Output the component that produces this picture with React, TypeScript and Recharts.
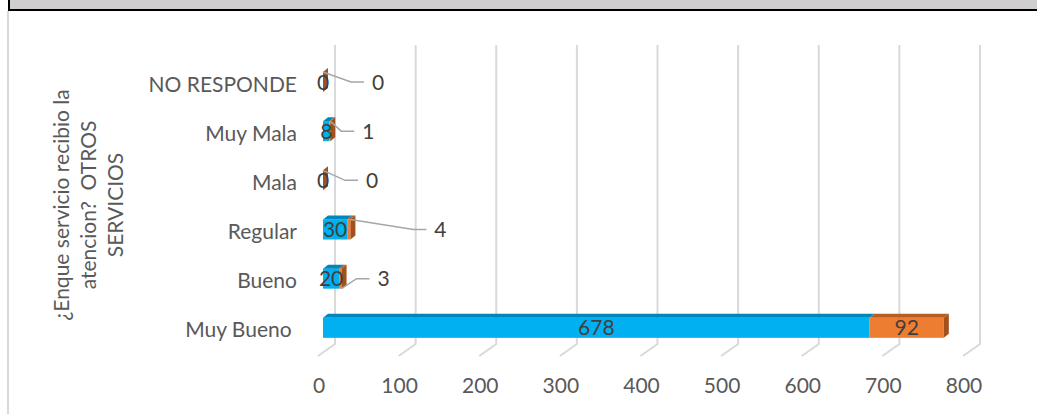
import { BarChart, Bar, XAxis, YAxis, CartesianGrid, LabelList } from "recharts";

const categories = ["NO RESPONDE", "Muy Mala", "Mala", "Regular", "Bueno", "Muy Bueno "];
const serieAzul = [0, 8, 0, 30, 20, 678];
const serieNaranja = [0, 1, 0, 4, 3, 92];
const xTicks = [0, 100, 200, 300, 400, 500, 600, 700, 800];

// where the orange labels were dragged to (px right of bar end), 0 = inside
const labelShift = [55, 38, 49, 90, 42, 0];
const leaderFromBottom = [false, false, false, false, true, false];

const data = categories.map((name, i) => ({
  name,
  azul: serieAzul[i],
  naranja: serieNaranja[i],
}));

const FONT = "Lato, 'Open Sans', sans-serif";
const FS = 21;
const TXT = "#595959";
const GRID = "#D9D9D9";
const DX = 5;
const DY = 4;

function Box3D(props: any) {
  const { x, y, width, height, fill, topFill, sideFill, withSide } = props;
  if (x == null || y == null) return null;
  const w = Math.max(0, width);
  return (
    <g>
      {w > 0 && <rect x={x} y={y} width={w} height={height} fill={fill} />}
      {w > 0 && (
        <polygon
          points={`${x},${y} ${x + DX},${y - DY} ${x + w + DX},${y - DY} ${x + w},${y}`}
          fill={topFill}
        />
      )}
      {withSide && (
        <polygon
          points={`${x + w},${y} ${x + w + DX},${y - DY} ${x + w + DX},${y + height - DY} ${x + w},${y + height}`}
          fill={sideFill}
        />
      )}
    </g>
  );
}

function BlueLabel(props: any) {
  const { x, y, width, height, value } = props;
  return (
    <text x={x + width / 2} y={y + height / 2 + 7.5} textAnchor="middle" fontSize={FS} fill="#404040" fontFamily={FONT}>
      {value}
    </text>
  );
}

function OrangeLabel(props: any) {
  const { x, y, width, height, value, index } = props;
  const shift = labelShift[index] ?? 0;
  if (!shift) {
    return (
      <text x={x + width / 2} y={y + height / 2 + 7.5} textAnchor="middle" fontSize={FS} fill="#404040" fontFamily={FONT}>
        {value}
      </text>
    );
  }
  const end = x + width;
  const cx = end + shift;
  const cy = y + height / 2;
  const left = cx - 6;
  const sy = leaderFromBottom[index] ? y + height : y;
  return (
    <g>
      <polyline
        points={`${end},${sy} ${left - 21},${cy} ${left - 8},${cy}`}
        fill="none"
        stroke="#A6A6A6"
        strokeWidth={1.5}
      />
      <text x={cx} y={cy + 7.5} textAnchor="middle" fontSize={FS} fill="#404040" fontFamily={FONT}>
        {value}
      </text>
    </g>
  );
}

function BackGridLine(props: any) {
  const { x1, y1, y2 } = props;
  return (
    <polyline
      points={`${x1 + 12},${y1 - 12} ${x1 + 12},${y2 - 8} ${x1 - 5},${y2 + 4}`}
      fill="none"
      stroke={GRID}
      strokeWidth={2}
    />
  );
}

function XTick(props: any) {
  const { x, y, payload } = props;
  return (
    <text x={x - 4} y={y + 33} textAnchor="middle" fontSize={FS} fill={TXT} fontFamily={FONT}>
      {payload.value}
    </text>
  );
}

function YTick(props: any) {
  const { x, y, payload } = props;
  return (
    <text x={x} y={y + 10} textAnchor="end" fontSize={FS} fill={TXT} fontFamily={FONT} style={{ whiteSpace: "pre" }}>
      {payload.value}
    </text>
  );
}

function AxisTitle() {
  const lines = ["¿Enque servicio recibio la", "atencion?  OTROS", "SERVICIOS"];
  return (
    <text
      transform="translate(89,205) rotate(-90)"
      textAnchor="middle"
      fontSize={FS}
      fill={TXT}
      fontFamily={FONT}
      style={{ whiteSpace: "pre" }}
    >
      {lines.map((l, i) => (
        <tspan key={i} x={0} y={(i - 1) * 27 + 7}>
          {l}
        </tspan>
      ))}
    </text>
  );
}

export default function App() {
  return (
    <div style={{ position: "absolute", left: 0, top: 0, width: 1037, height: 414, background: "#fff" }}>
      <div style={{ position: "absolute", left: 8, top: 0, width: 1029, height: 9, background: "#D0CECE" }} />
      <div style={{ position: "absolute", left: 8, top: 0, width: 2, height: 11, background: "#000" }} />
      <div style={{ position: "absolute", left: 8, top: 9, width: 1029, height: 2, background: "#000" }} />
      <div style={{ position: "absolute", left: 7, top: 11, width: 2, height: 403, background: GRID }} />
      <div style={{ position: "absolute", left: 0, top: 0 }}>
        <BarChart
          width={1037}
          height={414}
          data={data}
          layout="vertical"
          barSize={20}
          margin={{ top: 57, right: 69, bottom: 0, left: 123 }}
        >
          <CartesianGrid horizontal={false} vertical={(p: any) => <BackGridLine key={p.key} {...p} />} />
          <XAxis
            type="number"
            domain={[0, 800]}
            ticks={xTicks}
            axisLine={false}
            tickLine={false}
            height={62}
            tick={<XTick />}
          />
          <YAxis
            type="category"
            dataKey="name"
            width={200}
            axisLine={false}
            tickLine={false}
            tickMargin={20}
            tick={<YTick />}
            label={<AxisTitle />}
          />
          <Bar
            dataKey="azul"
            stackId="a"
            fill="#00B0F0"
            isAnimationActive={false}
            shape={(p: any) => <Box3D {...p} fill="#00B0F0" topFill="#0087BA" sideFill="#0079A8" withSide={false} />}
          >
            <LabelList dataKey="azul" content={<BlueLabel />} />
          </Bar>
          <Bar
            dataKey="naranja"
            stackId="a"
            fill="#ED7D31"
            isAnimationActive={false}
            shape={(p: any) => <Box3D {...p} fill="#ED7D31" topFill="#B65F24" sideFill="#A2511C" withSide={true} />}
          >
            <LabelList dataKey="naranja" content={<OrangeLabel />} />
          </Bar>
        </BarChart>
      </div>
    </div>
  );
}
